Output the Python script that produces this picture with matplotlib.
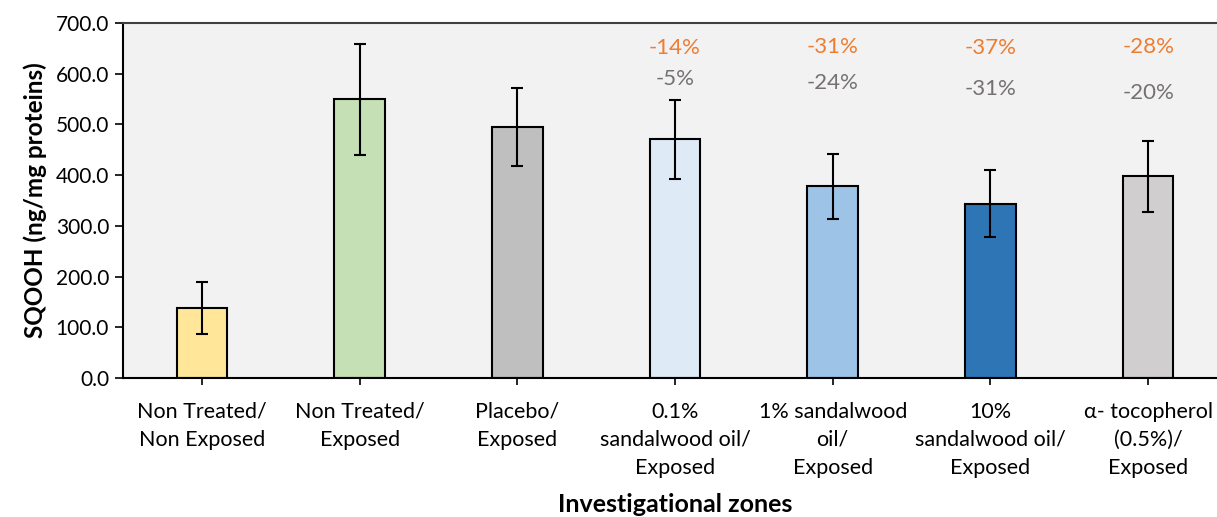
import matplotlib
matplotlib.use('Agg')
import matplotlib.pyplot as plt

# data
categories = ['Non Treated/\nNon Exposed', 'Non Treated/\nExposed', 'Placebo/\nExposed',
              '0.1%\nsandalwood oil/\nExposed', '1% sandalwood\noil/\nExposed',
              '10%\nsandalwood oil/\nExposed', 'α- tocopherol\n(0.5%)/\nExposed']
means = [138.5, 549.5, 495.0, 470.5, 378.5, 343.5, 397.5]
errors = [51.0, 110.0, 76.0, 78.5, 64.0, 66.0, 70.0]
colors = ['#FFE699', '#C5E0B4', '#BFBFBF', '#DEEBF7', '#9DC3E6', '#2E75B6', '#D0CECE']

# percentage changes (orange vs non treated/exposed, gray vs placebo)
pct_orange = ['-14%', '-31%', '-37%', '-28%']
pct_gray = ['-5%', '-24%', '-31%', '-20%']
orange_y = [650, 653, 650, 653]
gray_y = [590, 582, 570, 562]
pct_idx = [3, 4, 5, 6]

plt.rcParams['font.family'] = ['Lato', 'DejaVu Sans']

fig = plt.figure(figsize=(12.17, 5.17), dpi=100)
ax = fig.add_axes([123 / 1217, 139 / 517, 1104 / 1217, 355 / 517])
ax.set_facecolor('#F2F2F2')

x = list(range(len(categories)))
ax.bar(x, means, width=0.32, color=colors, edgecolor='black', linewidth=1.5, zorder=2)
ax.errorbar(x, means, yerr=errors, fmt='none', ecolor='black', elinewidth=1.5,
            capsize=4.5, capthick=1.5, zorder=3)

for i, t, y in zip(pct_idx, pct_orange, orange_y):
    ax.text(i, y, t, color='#ED7D31', ha='center', va='center', fontsize=16)
for i, t, y in zip(pct_idx, pct_gray, gray_y):
    ax.text(i, y, t, color='#767171', ha='center', va='center', fontsize=16)

ax.set_xlim(-0.5, 6.5)
ax.set_ylim(0, 700)
ax.set_yticks(range(0, 701, 100))
ax.set_yticklabels([f'{v:.1f}' for v in range(0, 701, 100)], fontsize=15)
ax.set_xticks(x)
ax.set_xticklabels(categories, fontsize=15.5, linespacing=1.5, va='top')
ax.tick_params(axis='x', length=5, width=1.2, pad=12)
ax.tick_params(axis='y', length=6, width=1.2, pad=4)

for s in ['left', 'bottom']:
    ax.spines[s].set_linewidth(1.5)
ax.spines['top'].set_linewidth(1.5)
ax.spines['top'].set_color('#404040')
ax.spines['right'].set_visible(False)

ax.set_ylabel('SQOOH (ng/mg proteins)', fontsize=17.5, fontweight='bold', labelpad=6)
ax.set_xlabel('Investigational zones', fontsize=18, fontweight='bold', labelpad=11)

fig.savefig('out.png', dpi=100)
